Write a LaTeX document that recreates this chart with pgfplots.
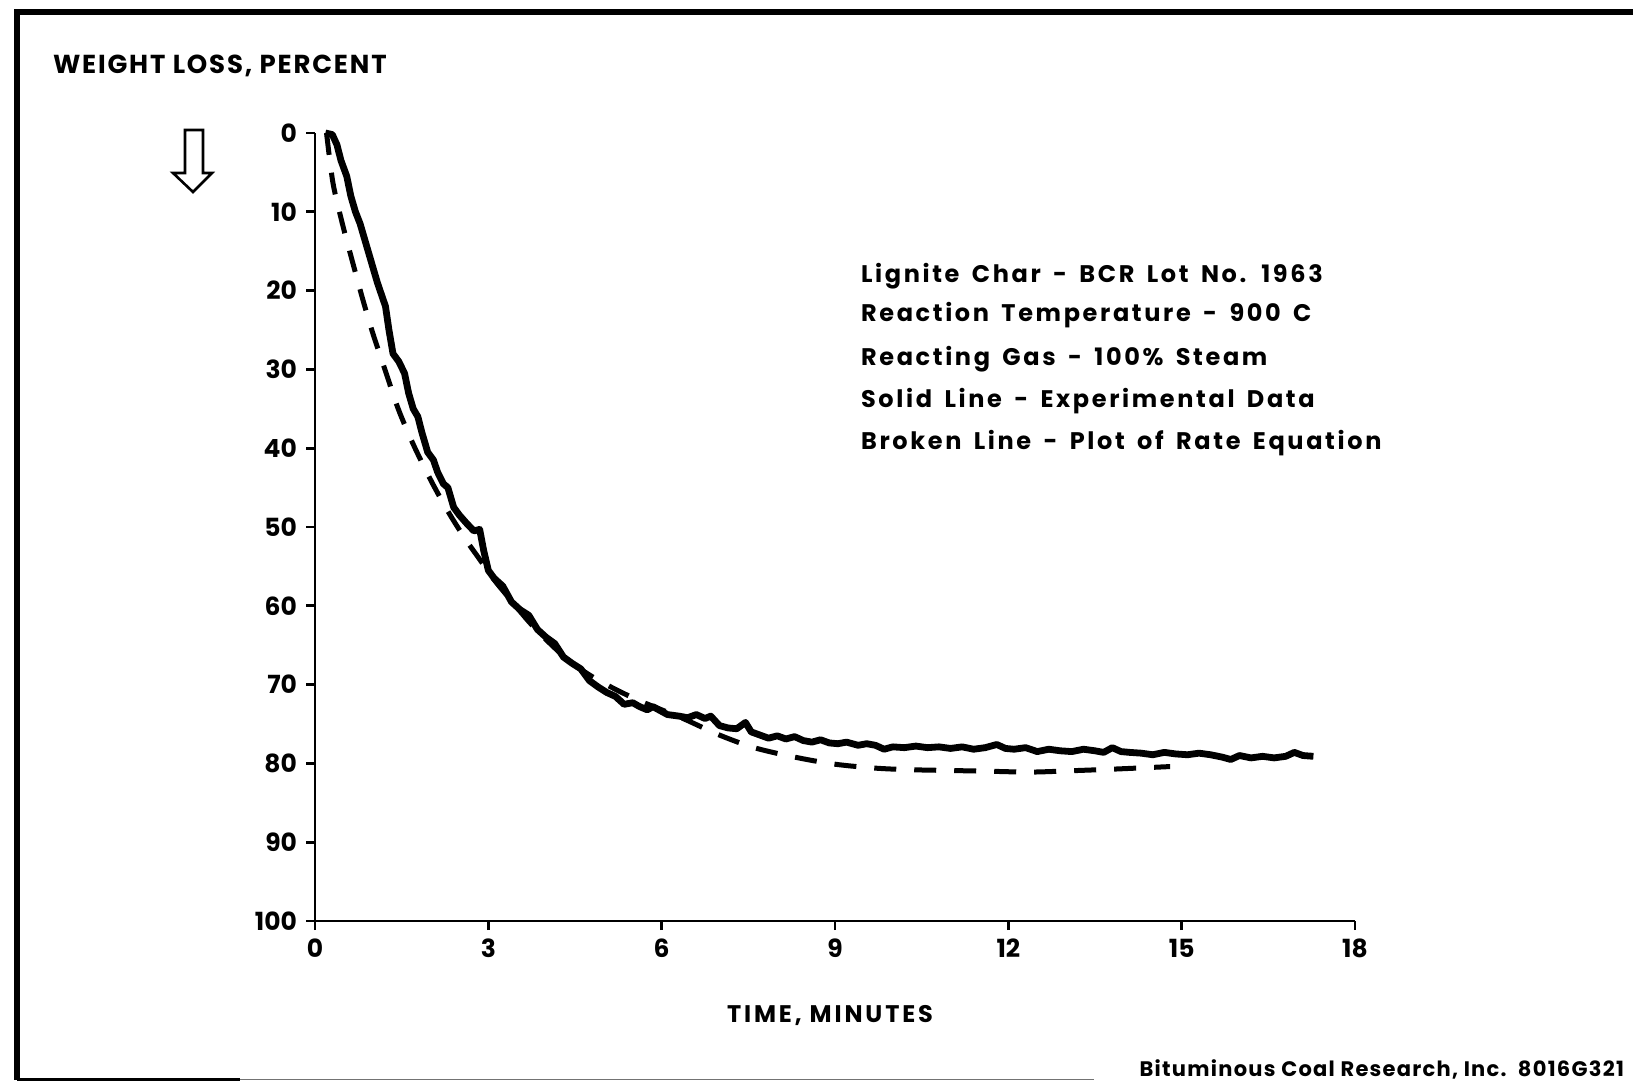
\documentclass[border=0pt]{standalone}
\usepackage{fontspec}
\setmainfont{Poppins}
\newfontfamily\notefont{Poppins}[LetterSpace=11, WordSpace=1.6]
\usepackage{pgfplots}
\pgfplotsset{compat=1.18}

\begin{document}
\begin{tikzpicture}[x=1pt,y=1pt]
\useasboundingbox (0,0) rectangle (816.5,541.5);

% frame of the original sheet
\draw[line width=2.6pt] (8.5,1.5) -- (8.5,535.5) -- (816.5,535.5);
\draw[line width=1.6pt] (8.5,1.8) -- (120,1.8);
\draw[line width=0.8pt, black!55] (120,1.8) -- (547,1.8);

\begin{axis}[
    at={(157.5pt,81pt)}, anchor=south west,
    scale only axis,
    width=520pt, height=394pt,
    xmin=0, xmax=18, ymin=0, ymax=100,
    y dir=reverse,
    axis x line*=bottom, axis y line*=left,
    xtick={0,3,...,18}, ytick={0,10,...,100},
    tick align=outside,
    major tick length=4.5pt,
    axis line style={line width=1.4pt},
    every tick/.style={line width=1.4pt, black},
    tick label style={font=\fontsize{12.5}{14}\selectfont\bfseries},
    /pgf/number format/assume math mode=true,
    xticklabel style={yshift=-1pt},
    yticklabel style={xshift=-1pt},
    clip=false,
]

% broken line: rate equation
\addplot[black, line width=2.5pt, dash pattern=on 11pt off 9pt, smooth] coordinates {
    (0.2,0) (0.31,6.3) (0.47,11.4) (0.64,16.1) (0.83,21.2) (1.0,25.4)
    (1.21,30.0) (1.44,35.0) (1.7,39.5) (2.0,44.0) (2.3,48.0) (2.6,51.5)
    (2.84,54.0) (3.1,56.7) (3.38,59.2) (3.7,62.0) (4.0,64.3) (4.4,67.0)
    (4.8,69.0) (5.2,70.6) (5.6,72.0) (6.0,73.2) (6.4,74.4) (7.0,76.4)
    (7.6,78.0) (8.3,79.2) (9.0,80.1) (9.7,80.6) (10.3,80.8) (11.0,80.9)
    (11.7,81.0) (12.4,81.1) (13.2,80.9) (13.9,80.7) (14.8,80.4)
};

% solid line: experimental data
\addplot[black, line width=3.4pt, line join=round] coordinates {
    (0.18,0) (0.30,0.2) (0.38,1.5) (0.45,3.5) (0.55,5.5) (0.62,8)
    (0.70,10) (0.78,11.5) (0.88,14) (0.98,16.5) (1.08,19) (1.15,20.5)
    (1.22,22) (1.28,25) (1.35,28) (1.45,29) (1.55,30.5) (1.62,33)
    (1.70,35) (1.78,36) (1.85,38) (1.95,40.5) (2.05,41.5) (2.12,43)
    (2.22,44.5) (2.30,45) (2.40,47.5) (2.50,48.5) (2.62,49.5) (2.75,50.5)
    (2.85,50.3) (2.92,53) (3.00,55.5) (3.10,56.5) (3.25,57.5) (3.40,59.5)
    (3.55,60.5) (3.70,61.2) (3.85,63) (4.00,64) (4.15,64.8) (4.30,66.5)
    (4.45,67.3) (4.60,68) (4.75,69.5) (4.90,70.3) (5.05,71) (5.20,71.5)
    (5.35,72.5) (5.50,72.3) (5.62,72.8) (5.75,73.2) (5.85,72.8)
    (6.10,73.8) (6.30,74.0) (6.45,74.2) (6.60,73.8) (6.75,74.3) (6.85,74.0)
    (7.00,75.2) (7.15,75.5) (7.30,75.6) (7.45,74.8) (7.55,76.0) (7.70,76.4)
    (7.85,76.8) (8.00,76.5) (8.15,76.9) (8.30,76.6) (8.45,77.1) (8.60,77.3)
    (8.75,77.0) (8.90,77.4) (9.05,77.5) (9.20,77.3) (9.40,77.7) (9.55,77.5)
    (9.70,77.7) (9.85,78.2) (10.0,77.9) (10.2,78.0) (10.4,77.8) (10.6,78.0)
    (10.8,77.9) (11.0,78.1) (11.2,77.9) (11.4,78.2) (11.6,78.0) (11.8,77.6)
    (11.95,78.1) (12.1,78.2) (12.3,78.0) (12.5,78.5) (12.7,78.2) (12.9,78.4)
    (13.1,78.5) (13.3,78.2) (13.5,78.4) (13.65,78.6) (13.8,78.0) (13.95,78.5)
    (14.1,78.6) (14.3,78.7) (14.5,78.9) (14.7,78.6) (14.9,78.8) (15.1,78.9)
    (15.3,78.7) (15.5,78.9) (15.7,79.2) (15.85,79.5) (16.0,79.0) (16.2,79.3)
    (16.4,79.1) (16.6,79.3) (16.8,79.1) (16.95,78.6) (17.1,79.0) (17.28,79.1)
};
\end{axis}

% axis title and arrow
\node[anchor=west, font=\fontsize{13}{15}\selectfont\bfseries\addfontfeatures{LetterSpace=7}] at (23,508.5) {WEIGHT LOSS, PERCENT};
\draw[line width=1.3pt, line join=miter]
    (92.5,476.5) -- (101.5,476.5) -- (101.5,455) -- (106,455)
    -- (96.5,445.5) -- (86.5,455) -- (92.5,455) -- cycle;

% notes
\begin{scope}[every node/.style={anchor=base west, font=\notefont\fontsize{12}{14}\selectfont\bfseries}]
\node at (427,400) {Lignite Char - BCR Lot No. 1963};
\node at (427,380.5) {Reaction Temperature - 900 C};
\node at (427,358.5) {Reacting Gas - 100\% Steam};
\node at (427,337.5) {Solid Line - Experimental Data};
\node at (427,316.5) {Broken Line - Plot of Rate Equation};
\end{scope}

\node[font=\fontsize{12}{14}\selectfont\bfseries\addfontfeatures{LetterSpace=12}] at (415,34) {TIME, MINUTES};
\node[anchor=base east, font=\fontsize{10.5}{12}\selectfont\bfseries\addfontfeatures{LetterSpace=6}] at (815.5,3.5) {Bituminous Coal Research, Inc.\ \ 8016G321};
\end{tikzpicture}
\end{document}
